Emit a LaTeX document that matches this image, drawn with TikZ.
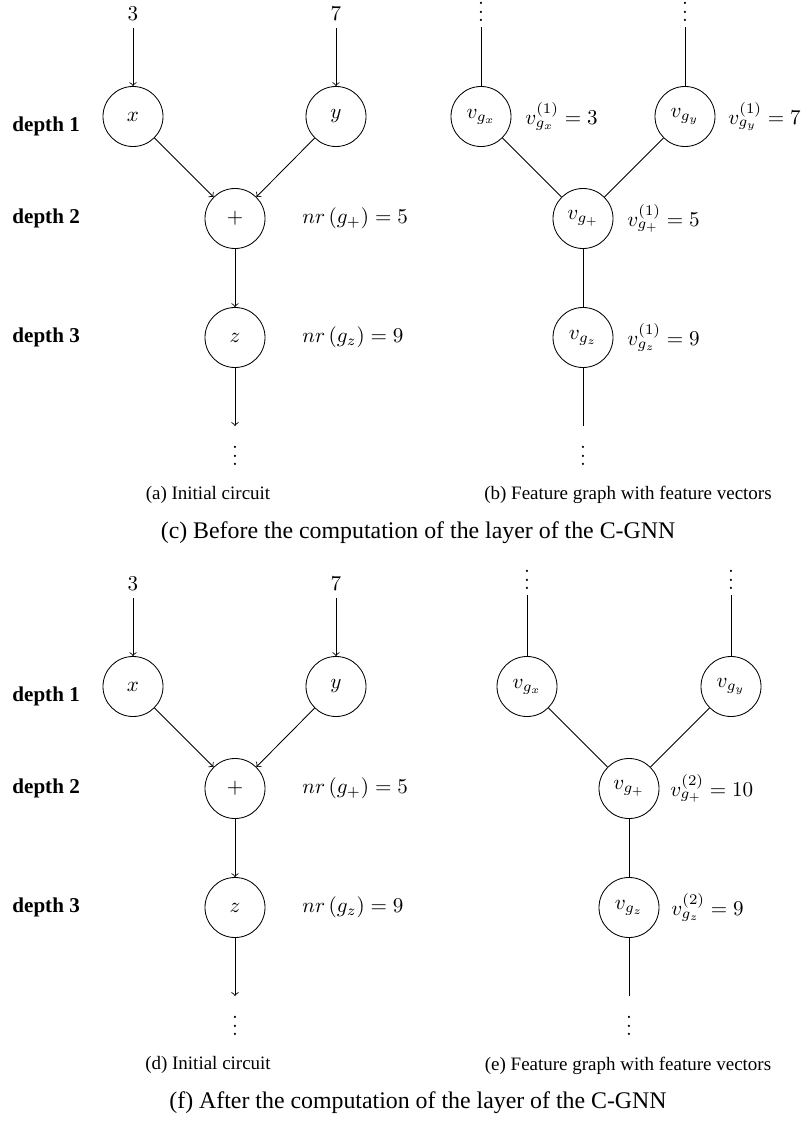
\documentclass[tikz,border=0pt]{standalone}
\usepackage{fontspec}
\setmainfont{Liberation Serif}
\newcommand\tightvdots{\vbox{\baselineskip4pt \lineskiplimit0pt \hbox{$.$}\hbox{$.$}\hbox{$.$}}}
\begin{document}
\begin{tikzpicture}[x=0.474pt,y=-0.474pt,
  gate/.style={circle,draw,minimum size=1cm,inner sep=0pt},
  inp/.style={inner sep=3.33pt},
  val/.style={anchor=west,inner sep=0pt},
  dep/.style={anchor=west,inner sep=0pt,font=\bfseries},
  dots/.style={inner sep=0pt,anchor=south},
  subcap/.style={inner sep=0pt,font=\fontsize{9}{11}\selectfont},
  maincap/.style={inner sep=0pt,font=\fontsize{11.3}{13}\selectfont},
  arr/.style={->},
  edge/.style={-},
  topedge/.style={-,shorten <=2.4pt}]
\useasboundingbox (0,0) rectangle (801,1122);

% ===== top half =====
\node[dep] (d1a) at (12,126) {depth 1};
\node[dep] (d2a) at (12,218) {depth 2};
\node[dep] (d3a) at (12,337) {depth 3};

% initial circuit (a)
\node[inp] (i3a) at (133,14) {$3$};
\node[inp] (i7a) at (336,14) {$7$};
\node[gate] (xa) at (133,116.5) {$x$};
\node[gate] (ya) at (336,116.5) {$y$};
\node[gate] (pa) at (235,218.5) {$+$};
\node[gate] (za) at (235,337.5) {$z$};
\coordinate (oa) at (235,426);
\node[dots] (vda) at (235,466) {\tightvdots};
\node[val] (nrpa) at (302,218.5) {$nr\left(g_{+}\right)=5$};
\node[val] (nrza) at (302,337.5) {$nr\left(g_{z}\right)=9$};
\draw[arr] (i3a) -- (xa);
\draw[arr] (i7a) -- (ya);
\draw[arr] (xa) -- (pa);
\draw[arr] (ya) -- (pa);
\draw[arr] (pa) -- (za);
\draw[arr] (za) -- (oa);
\node[subcap] (capa) at (208,495) {(a) Initial circuit};

% feature graph (b)
\node[dots] (tdxb) at (481,22) {\tightvdots};
\node[dots] (tdyb) at (685,22) {\tightvdots};
\node[gate] (vxb) at (481,116.5) {$v_{g_x}$};
\node[gate] (vyb) at (685,116.5) {$v_{g_y}$};
\node[gate] (vpb) at (583,218.5) {$v_{g_+}$};
\node[gate] (vzb) at (583,337.5) {$v_{g_z}$};
\coordinate (ob) at (583,426);
\node[dots] (vdb) at (583,466) {\tightvdots};
\node[val] (lxb) at (525,116.5) {$v^{(1)}_{g_x}=3$};
\node[val] (lyb) at (728,116.5) {$v^{(1)}_{g_y}=7$};
\node[val] (lpb) at (627,218.5) {$v^{(1)}_{g_+}=5$};
\node[val] (lzb) at (627,337.5) {$v^{(1)}_{g_z}=9$};
\draw[topedge] (tdxb) -- (vxb);
\draw[topedge] (tdyb) -- (vyb);
\draw[edge] (vxb) -- (vpb);
\draw[edge] (vyb) -- (vpb);
\draw[edge] (vpb) -- (vzb);
\draw[edge] (vzb) -- (ob);
\node[subcap] (capb) at (628,495) {(b) Feature graph with feature vectors};
\node[maincap] (capc) at (418,533) {(c) Before the computation of the layer of the C-GNN};

% ===== bottom half =====
\node[dep] (d1d) at (12,696) {depth 1};
\node[dep] (d2d) at (12,788) {depth 2};
\node[dep] (d3d) at (12,907) {depth 3};

% initial circuit (d)
\node[inp] (i3d) at (133,584) {$3$};
\node[inp] (i7d) at (336,584) {$7$};
\node[gate] (xd) at (133,686.5) {$x$};
\node[gate] (yd) at (336,686.5) {$y$};
\node[gate] (pd) at (235,788.5) {$+$};
\node[gate] (zd) at (235,907.5) {$z$};
\coordinate (od) at (235,996);
\node[dots] (vdd) at (235,1036) {\tightvdots};
\node[val] (nrpd) at (302,788.5) {$nr\left(g_{+}\right)=5$};
\node[val] (nrzd) at (302,907.5) {$nr\left(g_{z}\right)=9$};
\draw[arr] (i3d) -- (xd);
\draw[arr] (i7d) -- (yd);
\draw[arr] (xd) -- (pd);
\draw[arr] (yd) -- (pd);
\draw[arr] (pd) -- (zd);
\draw[arr] (zd) -- (od);
\node[subcap] (capd) at (208,1065) {(d) Initial circuit};

% feature graph (e)
\node[dots] (tdxe) at (527,590) {\tightvdots};
\node[dots] (tdye) at (731,590) {\tightvdots};
\node[gate] (vxe) at (527,686.5) {$v_{g_x}$};
\node[gate] (vye) at (731,686.5) {$v_{g_y}$};
\node[gate] (vpe) at (629,788.5) {$v_{g_+}$};
\node[gate] (vze) at (629,907.5) {$v_{g_z}$};
\coordinate (oe) at (629,996);
\node[dots] (vde) at (629,1036) {\tightvdots};
\node[val] (lpe) at (670,788.5) {$v^{(2)}_{g_+}=10$};
\node[val] (lze) at (671,907.5) {$v^{(2)}_{g_z}=9$};
\draw[topedge] (tdxe) -- (vxe);
\draw[topedge] (tdye) -- (vye);
\draw[edge] (vxe) -- (vpe);
\draw[edge] (vye) -- (vpe);
\draw[edge] (vpe) -- (vze);
\draw[edge] (vze) -- (oe);
\node[subcap] (cape) at (628,1066) {(e) Feature graph with feature vectors};
\node[maincap] (capf) at (418,1103) {(f) After the computation of the layer of the C-GNN};
\end{tikzpicture}
\end{document}
